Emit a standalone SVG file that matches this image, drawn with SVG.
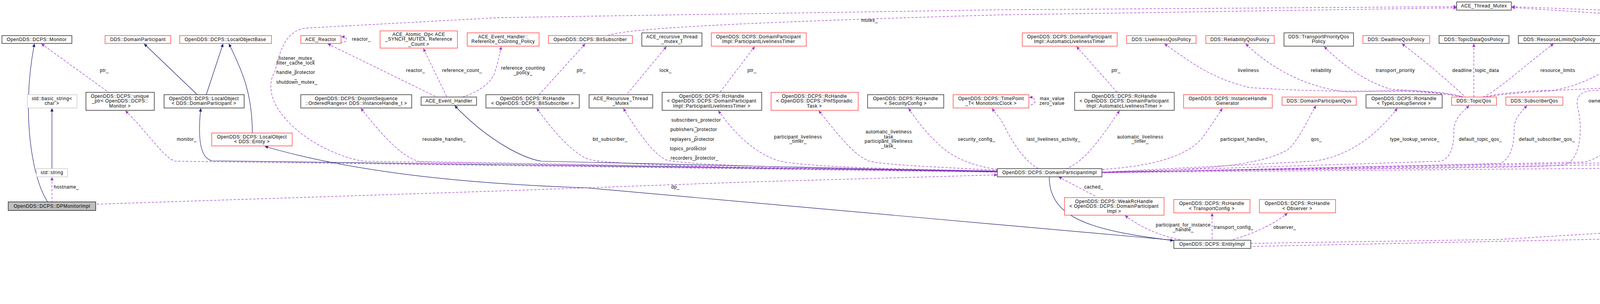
<svg xmlns="http://www.w3.org/2000/svg" width="5165" height="777" viewBox="0 0 5165 777">
<style>
text{font-family:"Liberation Sans",Arial,sans-serif;font-size:12px;letter-spacing:0.55px;fill:#000;text-anchor:middle}
.l{text-anchor:start}
.n rect{fill:#fff;stroke:#000;stroke-width:1.2}
.r rect{stroke:#ff2020}
.g rect{stroke:#bfbfbf}
.h rect{fill:#bfbfbf}
.i{fill:none;stroke:#191970;stroke-width:1.2;marker-start:url(#an)}
.d{fill:none;stroke:#9a32cd;stroke-width:1.2;stroke-dasharray:6,4;marker-start:url(#ap)}
</style>
<defs>
<marker id="an" viewBox="0 0 10 10" refX="10" refY="5" markerWidth="11" markerHeight="8" markerUnits="userSpaceOnUse" orient="auto-start-reverse"><path d="M0,0 L10,5 L0,10 z" fill="#191970"/></marker>
<marker id="ap" viewBox="0 0 10 10" refX="10" refY="5" markerWidth="11" markerHeight="8" markerUnits="userSpaceOnUse" orient="auto-start-reverse"><path d="M0,0 L10,5 L0,10 z" fill="#9a32cd"/></marker>
</defs>
<rect width="5165" height="777" fill="#fff"/>
<g id="edges">
<path class="i" d="M88,112 C55,285 80,453 122,516"/>
<path class="i" d="M133,277 L133,431"/>
<path class="i" d="M369,112 L505,242"/>
<path class="i" d="M571,112 L528,242"/>
<path class="i" d="M586,112 C620,180 646,240 646,340"/>
<path class="i" d="M514,277 C505,360 515,405 543,411 L2553,438"/>
<path class="i" d="M1164,270 C1250,360 1340,405 1386,412 L2553,439"/>
<path class="i" d="M678,374 C900,440 1200,470 1500,480 L3005,614"/>
<path class="i" d="M3004,615 C2800,590 2686,560 2686,452"/>
<path class="d" d="M133,453 L133,516"/>
<path class="d" d="M2553,447 L1920,465 L1280,488 L640,509 L245,522"/>
<path class="d" d="M321,283 C380,340 420,405 449,412 L2553,440"/>
<path class="d" d="M106,112 L278,236"/>
<path class="d" d="M3729,17 L2560,25 L1280,45 L780,72 C740,80 720,110 705,180 C650,270 800,390 930,412 L2553,440"/>
<path class="d" d="M3729,20 L2560,38 C1800,60 1600,75 1555,91"/>
<path class="d" d="M3870,17 L4480,40 C4560,50 4700,40 4840,31 C4880,28 4919,40 4919,90 L4919,520 C4919,530 4910,540 4870,549 L3840,612 L3202,622"/>
<path class="d" d="M3870,19 L4500,60 C4570,75 4591,110 4591,164"/>
<path class="d" d="M4540,197 C4450,215 4300,225 4080,231 C4050,232 4030,245 4040,280 C4050,320 4050,400 4010,420 C3980,430 3500,430 2821,440"/>
<path class="d" d="M4765,112 C4790,140 4810,170 4830,230 C4850,300 4840,360 4790,400 C4770,415 4700,418 4480,427 L2821,441"/>
<path class="d" d="M4753,112 C4745,150 4730,200 4690,220 C4650,236 4600,232 4530,242"/>
<path class="d" d="M4672,277 C4620,350 4560,405 4480,416 L2821,440"/>
<path class="d" d="M4432,277 C4410,320 4380,400 4330,412 L2821,441"/>
<path class="d" d="M4213,270 C4170,330 4120,400 4056,414 L2821,441"/>
<path class="d" d="M3909,270 C3895,285 3880,300 3877,320 C3875,340 3880,400 3840,418 L2821,442"/>
<path class="d" d="M3761,270 C3745,285 3725,300 3722,330 C3722,360 3720,400 3690,412 L2821,440"/>
<path class="d" d="M3577,277 C3520,350 3450,400 3363,412 L2821,440"/>
<path class="d" d="M3369,270 C3350,300 3330,350 3300,380 C3240,420 3100,435 2821,440"/>
<path class="d" d="M3129,277 C3115,300 3100,320 3080,350 C3040,400 2950,425 2821,433"/>
<path class="d" d="M2866,283 C2820,350 2780,410 2731,431"/>
<path class="d" d="M2756,119 L2860,236"/>
<path class="d" d="M2635,249 C2655,248 2655,268 2634,269"/>
<path class="d" d="M2540,277 C2548,290 2560,300 2570,320 C2590,360 2620,410 2658,431"/>
<path class="d" d="M2326,277 C2345,305 2370,340 2410,375 C2450,410 2500,425 2553,433"/>
<path class="d" d="M2096,283 C2150,350 2190,400 2226,412 C2260,420 2350,425 2553,435"/>
<path class="d" d="M1839,283 C1880,340 1930,390 1990,410 C2050,425 2200,430 2553,437"/>
<path class="d" d="M1932,119 L1843,236"/>
<path class="d" d="M1596,277 C1640,350 1680,400 1709,410 C1800,425 2100,430 2553,437"/>
<path class="d" d="M1706,119 L1604,242"/>
<path class="d" d="M1374,277 C1420,340 1470,395 1509,408 C1600,425 2000,430 2553,437"/>
<path class="d" d="M1498,112 L1380,242"/>
<path class="d" d="M839,112 L1118,248"/>
<path class="d" d="M1084,124 L1144,248"/>
<path class="d" d="M1283,119 C1280,135 1275,160 1265,190 C1250,220 1220,235 1185,248"/>
<path class="d" d="M874,94 C893,94 890,110 873,108"/>
<path class="d" d="M924,277 C990,360 1030,400 1073,413 L2553,439"/>
<path class="d" d="M3103,545 L3103,614"/>
<path class="d" d="M2880,551 C2920,580 2960,600 3025,614"/>
<path class="d" d="M2710,452 L2807,503"/>
<path class="d" d="M3296,545 C3250,580 3200,600 3150,614"/>
<path class="d" d="M5037,539 C5010,565 4990,585 4940,594 L3202,630"/>
<path class="d" d="M2981,112 C3050,160 3100,200 3200,224 C3300,230 3400,235 3560,232 C3640,230 3700,235 3747,248"/>
<path class="d" d="M3189,112 C3260,180 3350,225 3450,235 C3550,232 3650,230 3747,248"/>
<path class="d" d="M3390,119 C3440,170 3500,210 3560,228 C3620,232 3680,235 3747,248"/>
<path class="d" d="M3589,112 C3640,150 3700,200 3751,248"/>
<path class="d" d="M3773,112 L3773,248"/>
<path class="d" d="M3977,112 C3900,170 3830,235 3796,248"/>
<path class="d" d="M4201,119 C4120,180 4050,220 3975,231 C3900,232 3830,240 3800,248"/>
<path class="d" d="M4426,112 C4380,150 4320,200 4248,220 C4000,228 3850,238 3805,248"/>
</g>
<g id="n1" class="n"><rect x="5" y="91" width="179" height="20"/><text x="94" y="105">OpenDDS::DCPS::Monitor</text></g>
<g id="n2" class="n r"><rect x="269" y="91" width="168" height="20"/><text x="353" y="105">DDS::DomainParticipant</text></g>
<g id="n3" class="n r"><rect x="460" y="91" width="235" height="20"/><text x="577" y="105">OpenDDS::DCPS::LocalObjectBase</text></g>
<g id="n4" class="n g"><rect x="70" y="242" width="127" height="34"/><text x="133" y="256">std::basic_string&lt;</text><text x="133" y="268">char &gt;</text></g>
<g id="n5" class="n"><rect x="220" y="236" width="175" height="46"/><text x="307" y="250">OpenDDS::DCPS::unique</text><text x="307" y="262">_ptr&lt; OpenDDS::DCPS::</text><text x="307" y="275">Monitor &gt;</text></g>
<g id="n6" class="n"><rect x="420" y="242" width="205" height="34"/><text x="522" y="256">OpenDDS::DCPS::LocalObject</text><text x="522" y="268">&lt; DDS::DomainParticipant &gt;</text></g>
<g id="n7" class="n r"><rect x="542" y="340" width="206" height="33"/><text x="645" y="354">OpenDDS::DCPS::LocalObject</text><text x="645" y="366">&lt; DDS::Entity &gt;</text></g>
<g id="n8" class="n g"><rect x="93" y="431" width="80" height="21"/><text x="133" y="445">std::string</text></g>
<g id="n9" class="n h"><rect x="21" y="516" width="224" height="22"/><text x="133" y="531">OpenDDS::DCPS::DPMonitorImpl</text></g>
<g id="n10" class="n r"><rect x="770" y="91" width="103" height="20"/><text x="821" y="105">ACE_Reactor</text></g>
<g id="n11" class="n r"><rect x="973" y="79" width="198" height="44"/><text x="1072" y="92">ACE_Atomic_Op&lt; ACE</text><text x="1072" y="104">_SYNCH_MUTEX, Reference</text><text x="1072" y="117">_Count &gt;</text></g>
<g id="n12" class="n r"><rect x="1196" y="84" width="184" height="34"/><text x="1288" y="98">ACE_Event_Handler::</text><text x="1288" y="110">Reference_Counting_Policy</text></g>
<g id="n13" class="n"><rect x="770" y="242" width="284" height="34"/><text x="912" y="256">OpenDDS::DCPS::DisjointSequence</text><text x="912" y="268">::OrderedRanges&lt; DDS::InstanceHandle_t &gt;</text></g>
<g id="n14" class="n"><rect x="1078" y="248" width="142" height="21"/><text x="1149" y="262">ACE_Event_Handler</text></g>
<g id="n15" class="n"><rect x="1244" y="242" width="239" height="34"/><text x="1363" y="256">OpenDDS::DCPS::RcHandle</text><text x="1363" y="268">&lt; OpenDDS::DCPS::BitSubscriber &gt;</text></g>
<g id="n16" class="n r"><rect x="1404" y="91" width="215" height="20"/><text x="1511" y="105">OpenDDS::DCPS::BitSubscriber</text></g>
<g id="n17" class="n"><rect x="1643" y="84" width="154" height="34"/><text x="1720" y="98">ACE_recursive_thread</text><text x="1720" y="110">_mutex_t</text></g>
<g id="n18" class="n r"><rect x="1821" y="84" width="243" height="34"/><text x="1942" y="98">OpenDDS::DCPS::DomainParticipant</text><text x="1942" y="110">Impl::ParticipantLivelinessTimer</text></g>
<g id="n19" class="n"><rect x="1508" y="242" width="163" height="34"/><text x="1589" y="256">ACE_Recursive_Thread</text><text x="1589" y="268">_Mutex</text></g>
<g id="n20" class="n"><rect x="1695" y="236" width="255" height="46"/><text x="1822" y="250">OpenDDS::DCPS::RcHandle</text><text x="1822" y="262">&lt; OpenDDS::DCPS::DomainParticipant</text><text x="1822" y="275">Impl::ParticipantLivelinessTimer &gt;</text></g>
<g id="n21" class="n r"><rect x="1974" y="236" width="223" height="46"/><text x="2085" y="250">OpenDDS::DCPS::RcHandle</text><text x="2085" y="262">&lt; OpenDDS::DCPS::PmfSporadic</text><text x="2085" y="275">Task &gt;</text></g>
<g id="n22" class="n"><rect x="2221" y="242" width="195" height="34"/><text x="2318" y="256">OpenDDS::DCPS::RcHandle</text><text x="2318" y="268">&lt; SecurityConfig &gt;</text></g>
<g id="n23" class="n r"><rect x="2440" y="242" width="194" height="34"/><text x="2537" y="256">OpenDDS::DCPS::TimePoint</text><text x="2537" y="268">_T&lt; MonotonicClock &gt;</text></g>
<g id="n24" class="n"><rect x="2553" y="431" width="268" height="21"/><text x="2687" y="445">OpenDDS::DCPS::DomainParticipantImpl</text></g>
<g id="n25" class="n r"><rect x="2617" y="84" width="243" height="34"/><text x="2738" y="98">OpenDDS::DCPS::DomainParticipant</text><text x="2738" y="110">Impl::AutomaticLivelinessTimer</text></g>
<g id="n26" class="n r"><rect x="2884" y="91" width="178" height="20"/><text x="2973" y="105">DDS::LivelinessQosPolicy</text></g>
<g id="n27" class="n r"><rect x="3087" y="91" width="175" height="20"/><text x="3174" y="105">DDS::ReliabilityQosPolicy</text></g>
<g id="n28" class="n"><rect x="2751" y="236" width="255" height="46"/><text x="2878" y="250">OpenDDS::DCPS::RcHandle</text><text x="2878" y="262">&lt; OpenDDS::DCPS::DomainParticipant</text><text x="2878" y="275">Impl::AutomaticLivelinessTimer &gt;</text></g>
<g id="n29" class="n r"><rect x="3030" y="242" width="227" height="34"/><text x="3143" y="256">OpenDDS::DCPS::InstanceHandle</text><text x="3143" y="268">Generator</text></g>
<g id="n30" class="n r"><rect x="2725" y="505" width="255" height="45"/><text x="2852" y="519">OpenDDS::DCPS::WeakRcHandle</text><text x="2852" y="531">&lt; OpenDDS::DCPS::DomainParticipant</text><text x="2852" y="544">Impl &gt;</text></g>
<g id="n31" class="n r"><rect x="3005" y="510" width="195" height="34"/><text x="3102" y="524">OpenDDS::DCPS::RcHandle</text><text x="3102" y="537">&lt; TransportConfig &gt;</text></g>
<g id="n32" class="n"><rect x="3005" y="614" width="197" height="21"/><text x="3103" y="628">OpenDDS::DCPS::EntityImpl</text></g>
<g id="n33" class="n"><rect x="3729" y="5" width="140" height="21"/><text x="3799" y="19">ACE_Thread_Mutex</text></g>
<g id="n34" class="n"><rect x="3287" y="84" width="178" height="34"/><text x="3376" y="98">DDS::TransportPriorityQos</text><text x="3376" y="110">Policy</text></g>
<g id="n35" class="n r"><rect x="3489" y="91" width="171" height="20"/><text x="3574" y="105">DDS::DeadlineQosPolicy</text></g>
<g id="n36" class="n"><rect x="3684" y="91" width="179" height="20"/><text x="3773" y="105">DDS::TopicDataQosPolicy</text></g>
<g id="n37" class="n r"><rect x="3282" y="248" width="190" height="21"/><text x="3377" y="262">DDS::DomainParticipantQos</text></g>
<g id="n38" class="n"><rect x="3497" y="242" width="195" height="34"/><text x="3594" y="256">OpenDDS::DCPS::RcHandle</text><text x="3594" y="268">&lt; TypeLookupService &gt;</text></g>
<g id="n39" class="n r"><rect x="3716" y="248" width="115" height="21"/><text x="3773" y="262">DDS::TopicQos</text></g>
<g id="n40" class="n r"><rect x="3224" y="510" width="195" height="34"/><text x="3321" y="524">OpenDDS::DCPS::RcHandle</text><text x="3321" y="537">&lt; Observer &gt;</text></g>
<g id="n41" class="n"><rect x="3887" y="91" width="211" height="20"/><text x="3992" y="105">DDS::ResourceLimitsQosPolicy</text></g>
<g id="n42" class="n"><rect x="4120" y="84" width="199" height="34"/><text x="4219" y="98">DDS::DataRepresentationQos</text><text x="4219" y="110">Policy</text></g>
<g id="n43" class="n r"><rect x="4343" y="91" width="207" height="20"/><text x="4446" y="105">DDS::LatencyBudgetQosPolicy</text></g>
<g id="n44" class="n r"><rect x="3855" y="248" width="146" height="21"/><text x="3928" y="262">DDS::SubscriberQos</text></g>
<g id="n45" class="n r"><rect x="4152" y="248" width="138" height="21"/><text x="4221" y="262">DDS::PublisherQos</text></g>
<g id="n46" class="n r"><rect x="4314" y="242" width="243" height="34"/><text x="4435" y="256">OpenDDS::DCPS::DomainParticipant</text><text x="4435" y="268">Impl::RepoIdSequence</text></g>
<g id="n47" class="n"><rect x="4489" y="164" width="198" height="32"/><text x="4588" y="177">OpenDDS::DCPS::Ownership</text><text x="4588" y="189">Manager</text></g>
<g id="n48" class="n r"><rect x="4663" y="91" width="182" height="20"/><text x="4754" y="105">OpenDDS::DCPS::GUID_t</text></g>
<g id="n49" class="n r"><rect x="4581" y="242" width="211" height="34"/><text x="4686" y="256">OpenDDS::DCPS::Condition</text><text x="4686" y="268">Variable&lt; ACE_Thread_Mutex &gt;</text></g>
<g id="n50" class="n r"><rect x="4957" y="516" width="203" height="22"/><text x="5058" y="531">OpenDDS::DCPS::AtomicBool</text></g>
<g id="labels">
<text x="267" y="184">ptr_</text>
<text x="478" y="360">monitor_</text>
<text x="170" y="482">hostname_</text>
<text x="925" y="104">reactor_</text>
<text x="760" y="153">listener_mutex_</text><text x="757" y="165">filter_cache_lock</text><text x="757" y="177">_</text><text x="757" y="189">handle_protector</text><text x="757" y="201">_</text><text x="760" y="214">shutdown_mutex_</text>
<text x="1064" y="184">reactor_</text>
<text x="1183" y="184">reference_count_</text>
<text x="1137" y="360">reusable_handles_</text>
<text x="1339" y="178">reference_counting</text><text x="1339" y="190">_policy_</text>
<text x="1488" y="184">ptr_</text>
<text x="1704" y="184">lock_</text>
<text x="1925" y="184">ptr_</text>
<text x="1562" y="360">bit_subscriber_</text>
<text x="1782" y="311">subscribers_protector</text><text x="1782" y="323">_</text><text x="1776" y="335">publishers_protector</text><text x="1782" y="347">_</text><text x="1772" y="360">replayers_protector</text><text x="1782" y="372">_</text><text x="1762" y="384">topics_protector</text><text x="1782" y="396">_</text><text x="1778" y="408">recorders_protector_</text>
<text x="1729" y="482">dp_</text>
<text x="2226" y="56">mutex_</text>
<text x="2043" y="354">participant_liveliness</text><text x="2043" y="365">_timer_</text>
<text x="2275" y="341">automatic_liveliness</text><text x="2275" y="354">_task_</text><text x="2275" y="365">participant_liveliness</text><text x="2275" y="377">_task_</text>
<text x="2500" y="360">security_config_</text>
<text class="l" x="2662" y="256">max_value</text><text class="l" x="2661" y="268">zero_value</text>
<text x="2857" y="184">ptr_</text>
<text x="2697" y="360">last_liveliness_activity_</text>
<text x="2919" y="354">automatic_liveliness</text><text x="2919" y="365">_timer_</text>
<text x="3185" y="360">participant_handles_</text>
<text x="2800" y="482">cached_</text>
<text x="3029" y="579">participant_for_instance</text><text x="3029" y="591">_handle_</text>
<text class="l" x="3107" y="585">transport_config_</text>
<text x="3196" y="184">liveliness</text>
<text x="3382" y="184">reliability</text>
<text x="3572" y="184">transport_priority</text>
<text x="3743" y="184">deadline</text>
<text x="3807" y="184">topic_data</text>
<text x="3370" y="360">qos_</text>
<text x="3622" y="360">type_lookup_service_</text>
<text x="3790" y="360">default_topic_qos_</text>
<text x="3289" y="585">observer_</text>
<text x="3988" y="184">resource_limits</text>
<text x="4213" y="184">representation</text>
<text x="4424" y="184">latency_budget</text>
<text x="4104" y="262">owner_man_</text>
<text x="3960" y="360">default_subscriber_qos_</text>
<text x="4266" y="360">default_publisher_qos_</text>
<text x="4460" y="360">pub_id_gen_</text>
<text x="4539" y="56">instance_lock_</text>
<text x="4767" y="184">base_</text>
<text x="4867" y="262">dp_id_</text>
<text x="4714" y="354">handle_waiters_</text><text x="4714" y="365">shutdown_condition_</text>
<text x="4940" y="360">lock_</text>
<text x="5039" y="579">enabled_</text><text x="5039" y="591">entity_deleted_</text>
</g>
</svg>
